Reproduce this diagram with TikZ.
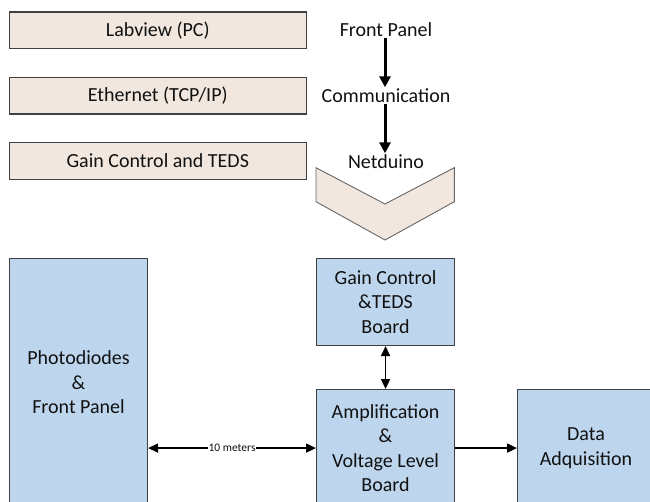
\documentclass[tikz,border=0pt]{standalone}
\usepackage{fontspec}
\setmainfont{Carlito}
\usetikzlibrary{arrows.meta}
\definecolor{beige}{HTML}{F2E7DE}
\definecolor{bluebox}{HTML}{BDD6EE}
\definecolor{edge}{HTML}{404040}
\definecolor{txt}{HTML}{111111}
\begin{document}
\begin{tikzpicture}[x=1pt,y=-1pt,
  every node/.style={text=txt,font=\fontsize{20}{24.5}\selectfont},
  toprow/.style={draw=edge,line width=1.1pt,fill=beige,anchor=north west,minimum width=296.5pt,minimum height=36.5pt,inner sep=0pt},
  bbox/.style={draw=edge,line width=1.1pt,fill=bluebox,anchor=north west,minimum width=138pt,inner sep=0pt,align=center},
  label/.style={inner sep=1pt},
  bigarrow/.style={line width=3pt,-{Triangle[length=11pt,width=11pt]}},
  smallarrow/.style={line width=1.8pt,-{Triangle[length=10pt,width=9pt]}},
  smallboth/.style={line width=1.8pt,{Triangle[length=10pt,width=9pt]}-{Triangle[length=10pt,width=9pt]}}]
\useasboundingbox (0,0) rectangle (650,502);
% top row boxes
\node[toprow] (lab) at (9,11.5) {Labview (PC)};
\node[toprow] (eth) at (9,77) {Ethernet (TCP/IP)};
\node[toprow] (gct) at (9,142.3) {Gain Control and TEDS};
% right labels
\node[label] (fp) at (386,30) {Front Panel};
\node[label] (comm) at (386,95.5) {Communication};
\node[label] (net) at (386,161.5) {Netduino};
\draw[bigarrow] ([xshift=-1pt]fp.south) -- ([xshift=-1pt]comm.north);
\draw[bigarrow] ([xshift=-1pt]comm.south) -- ([xshift=-1pt]net.north);
% chevron
\draw[draw=edge!80,line width=0.9pt,fill=beige] (316,167.7) -- (385,204) -- (454.3,167.7) -- (454.3,201.7) -- (385,240) -- (316,201.7) -- cycle;
% bottom boxes
\node[bbox,minimum height=248pt] (photo) at (9,258) {Photodiodes\\\&\\Front Panel};
\node[bbox,minimum height=87pt] (gb) at (316,258) {Gain Control\\\&TEDS\\Board};
\node[bbox,minimum height=117pt] (amp) at (316,389) {Amplification\\\&\\Voltage Level\\Board};
\node[bbox,minimum height=117pt,minimum width=137pt] (data) at (517,389) {Data\\Adquisition};
% connectors
\draw[smallboth] (gb) -- (amp);
\draw[smallboth] (photo.east |- amp.west) -- node[fill=white,inner sep=0.5pt,font=\fontsize{11.5}{13}\selectfont] (tenm) {10 meters} (amp.west);
\draw[smallarrow] (amp.east) -- (data.west);
\end{tikzpicture}
\end{document}
